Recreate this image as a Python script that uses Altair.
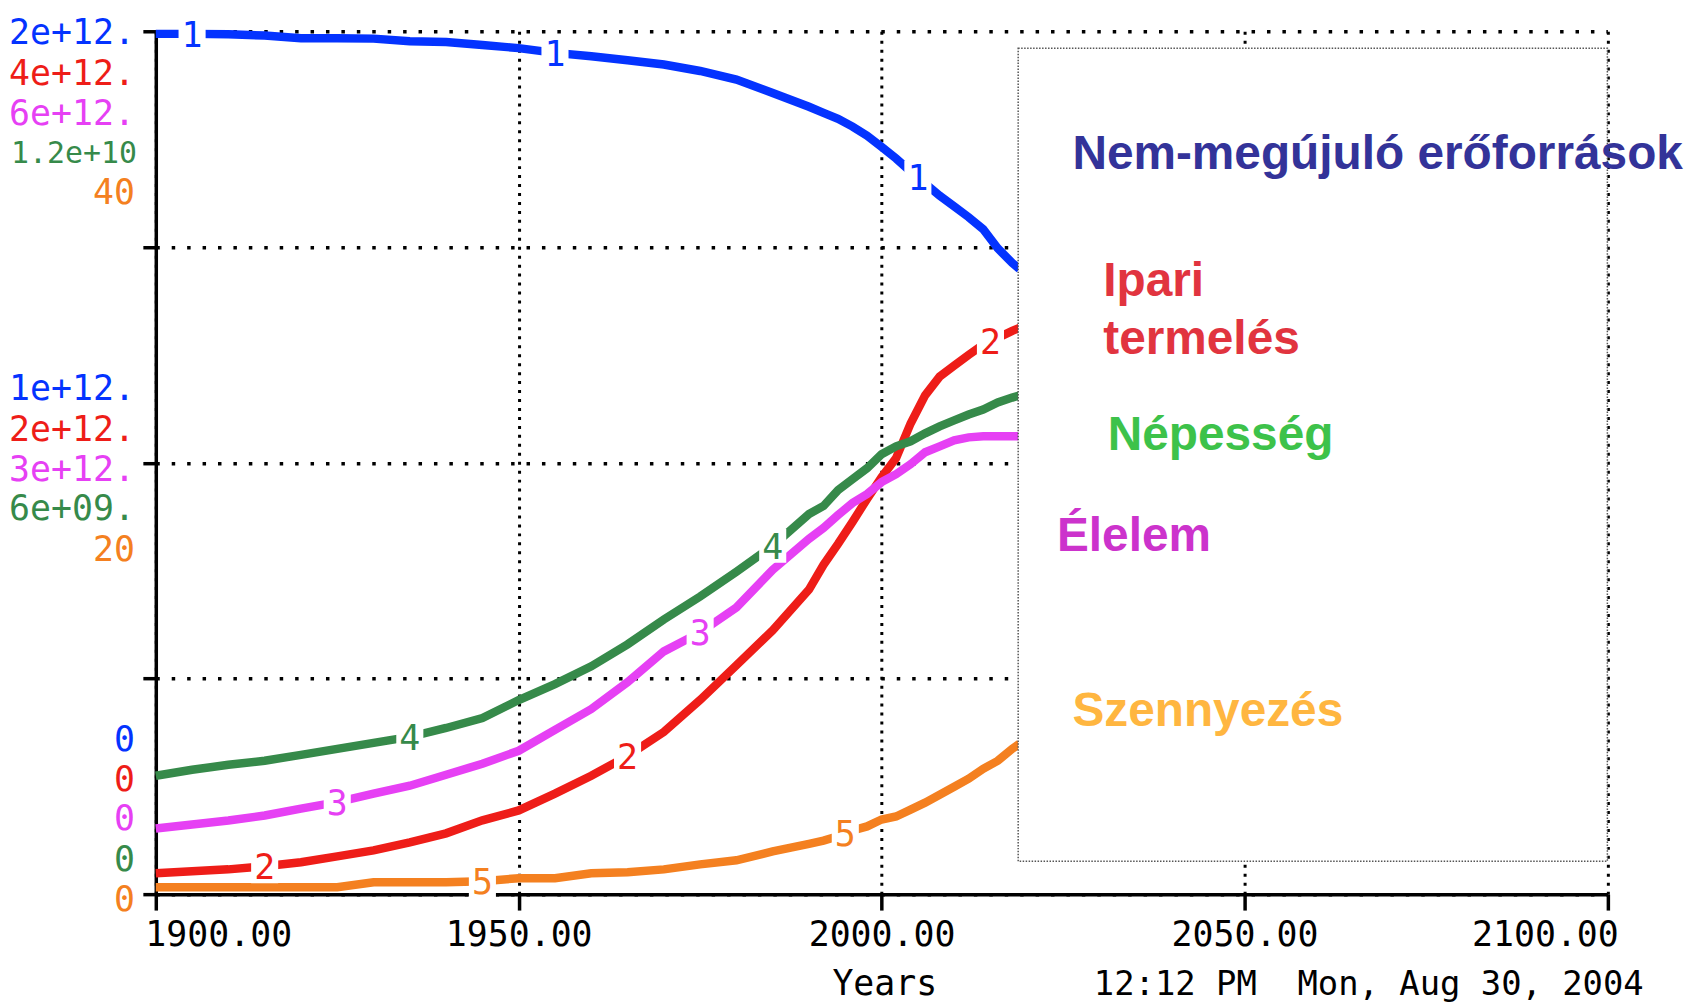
import altair as alt
import numpy as np
import pandas as pd

# ---------------- data ----------------
years = [1900, 1905, 1910, 1915, 1920, 1925, 1930, 1935, 1940, 1945, 1950, 1955,
         1960, 1965, 1970, 1975, 1980, 1985, 1990, 1992, 1994, 1996, 1998, 2000,
         2002, 2004, 2006, 2008, 2010, 2012, 2014, 2016, 2018, 2019]

# 1: non-renewable resources (x 1e12)
resources = [1.994, 1.994, 1.993, 1.990, 1.984, 1.984, 1.983, 1.977, 1.975, 1.968,
             1.961, 1.950, 1.942, 1.933, 1.923, 1.908, 1.888, 1.857, 1.825, 1.811,
             1.797, 1.779, 1.758, 1.732, 1.705, 1.675, 1.647, 1.619, 1.594, 1.569,
             1.541, 1.497, 1.463, 1.449]
# 2: industrial output (x 1e12)
industry = [0.097, 0.106, 0.115, 0.129, 0.148, 0.175, 0.203, 0.240, 0.282, 0.342,
            0.388, 0.466, 0.549, 0.641, 0.752, 0.900, 1.061, 1.223, 1.412, 1.527,
            1.624, 1.726, 1.832, 1.933, 2.021, 2.182, 2.312, 2.399, 2.450, 2.500,
            2.547, 2.579, 2.611, 2.625]
# 3: food (x 1e12)
food = [0.457, 0.484, 0.512, 0.547, 0.595, 0.640, 0.699, 0.754, 0.830, 0.907,
        0.997, 1.142, 1.287, 1.474, 1.688, 1.820, 1.993, 2.256, 2.471, 2.547,
        2.636, 2.720, 2.782, 2.865, 2.920, 2.990, 3.073, 3.114, 3.156, 3.176,
        3.184, 3.184, 3.184, 3.184]
# 4: population (x 1e9)
population = [1.647, 1.730, 1.799, 1.855, 1.938, 2.021, 2.104, 2.186, 2.311, 2.450,
              2.699, 2.921, 3.169, 3.474, 3.820, 4.139, 4.484, 4.844, 5.287, 5.398,
              5.620, 5.772, 5.924, 6.118, 6.228, 6.298, 6.408, 6.505, 6.588, 6.671,
              6.740, 6.838, 6.906, 6.935]
# 5: pollution
pollution = [0.32, 0.32, 0.32, 0.32, 0.32, 0.32, 0.55, 0.55, 0.55, 0.60,
             0.74, 0.74, 0.97, 1.02, 1.15, 1.38, 1.57, 1.98, 2.33, 2.48,
             2.68, 2.95, 3.14, 3.46, 3.60, 3.92, 4.24, 4.61, 4.98, 5.35,
             5.81, 6.18, 6.74, 6.97]

series_names = ["resources", "industry", "food", "population", "pollution"]
series_values = [resources, industry, food, population, pollution]
series_max = [2.0, 4.0, 6.0, 12.0, 40.0]
series_ids = ["1", "2", "3", "4", "5"]
colors = ["#0433FF", "#EE1D18", "#E640F4", "#368A4A", "#F48020"]
label_years = [[1905, 1955, 2005], [1915, 1965, 2015], [1925, 1975],
               [1935, 1985], [1945, 1995]]

top_labels = ["2e+12.", "4e+12.", "6e+12.", "1.2e+10", "40"]
mid_labels = ["1e+12.", "2e+12.", "3e+12.", "6e+09.", "20"]
bot_labels = ["0", "0", "0", "0", "0"]

x_ticks = [1900, 1950, 2000, 2050, 2100]
y_ticks = [0, 0.25, 0.5, 0.75, 1.0]

legend_texts = ["Nem-megújuló erőforrások", "Ipari", "termelés", "Népesség",
                "Élelem", "Szennyezés"]
legend_colors = ["#333399", "#E1343F", "#E1343F", "#3DC24A", "#CC33CC", "#FFB640"]
x_title = "Years"
stamp = "12:12 PM\u00a0\u00a0Mon, Aug 30, 2004"

# ---------------- tables ----------------
rows = []
for name, vals, mx in zip(series_names, series_values, series_max):
    for yr, v in zip(years, vals):
        rows.append({"series": name, "year": yr, "value": v, "frac": v / mx})
df = pd.DataFrame(rows)

lab_rows = []
for name, vals, mx, ident, lys in zip(series_names, series_values, series_max,
                                      series_ids, label_years):
    fr = np.array(vals) / mx
    for ly in lys:
        lab_rows.append({"series": name, "year": ly,
                         "frac": float(np.interp(ly, years, fr)), "id": ident})
lab_df = pd.DataFrame(lab_rows)

W, H = 1458.5, 867
MONO = "DejaVu Sans Mono"

xscale = alt.Scale(domain=[1900, 2100], nice=False, zero=False)
yscale = alt.Scale(domain=[0, 1], nice=False, zero=True)

xaxis = alt.Axis(values=x_ticks, format=".2f", title=None, labelFont=MONO,
                 labelFontSize=35, labelColor="black", labelFlush=True,
                 labelFlushOffset=11, labelOverlap=False, tickSize=16,
                 tickWidth=3.5, tickColor="black", domainColor="black",
                 domainWidth=3.5, labelPadding=8, grid=True, gridColor="black",
                 gridWidth=3, gridDash=[3, 6], gridOpacity=1)
yaxis = alt.Axis(values=y_ticks, labels=False, title=None, tickSize=13,
                 tickWidth=3.5, tickColor="black", domainColor="black",
                 domainWidth=3.5, grid=True, gridColor="black", gridWidth=3.5,
                 gridDash=[3.5, 12], gridOpacity=1)

X = alt.X("year:Q", scale=xscale, axis=xaxis)
Y = alt.Y("frac:Q", scale=yscale, axis=yaxis)
color = alt.Color("series:N", scale=alt.Scale(domain=series_names, range=colors),
                  legend=None)

lines = alt.Chart(df).mark_line(strokeWidth=8.5, strokeCap="butt").encode(
    x=X, y=Y, color=color, order="year:Q")

blanks = alt.Chart(lab_df).mark_point(
    shape="M-0.8,-1L0.8,-1L0.8,1L-0.8,1Z", filled=True, fill="white",
    opacity=1, size=1156).encode(x=X, y=Y)

digits = alt.Chart(lab_df).mark_text(font=MONO, fontSize=35, baseline="middle",
                                     dy=2).encode(x=X, y=Y, text="id:N", color=color)

dummy = pd.DataFrame({"a": [0]})
box = alt.Chart(dummy).mark_rect(fill="white", stroke="#555555", strokeWidth=1.5,
                                 strokeDash=[1.5, 1.5]).encode(
    x=alt.value(866.5), x2=alt.value(1458.5), y=alt.value(17), y2=alt.value(834))

legend_pos = [(921, 138), (952, 266), (952, 324), (956.5, 420.5),
              (905.5, 522), (921, 698.5)]
legend_layers = []
for txt, col, (px, py) in zip(legend_texts, legend_colors, legend_pos):
    legend_layers.append(
        alt.Chart(dummy).mark_text(font="Liberation Sans", fontWeight="bold",
                                   fontSize=48, align="left", baseline="alphabetic",
                                   color=col, text=txt).encode(
            x=alt.value(px), y=alt.value(py)))

# left stacked axis labels
ylabel_layers = []
groups = [(1.0, top_labels, [2, 43, 83, 123, 163]),
          (0.5, mid_labels, [-74, -33, 7, 47, 88]),
          (0.0, bot_labels, [-155, -115, -75, -34, 6])]
for gval, labels, offs in groups:
    for lab, col, off in zip(labels, colors, offs):
        fs = 35 if len(lab) < 7 else 30
        xr = -21 if len(lab) < 7 else -19
        ylabel_layers.append(
            alt.Chart(pd.DataFrame({"frac": [gval], "t": [lab]})).mark_text(
                font=MONO, fontSize=fs, align="right", baseline="middle",
                dy=off, color=col).encode(x=alt.value(xr), y=Y, text="t:N"))

title_txt = alt.Chart(dummy).mark_text(font=MONO, fontSize=35, align="center",
                                       baseline="alphabetic", color="black",
                                       text=x_title).encode(
    x=alt.value(732.5), y=alt.value(968))
stamp_txt = alt.Chart(dummy).mark_text(font=MONO, fontSize=34, align="left",
                                       baseline="alphabetic", color="black",
                                       text=stamp).encode(
    x=alt.value(942.5), y=alt.value(968))

chart = alt.layer(lines, blanks, digits, box, *legend_layers, *ylabel_layers,
                  title_txt, stamp_txt).properties(
    width=W, height=H,
    autosize=alt.AutoSizeParams(type="none"),
    padding={"left": 148.5, "top": 21, "right": 77, "bottom": 111},
).configure_view(strokeWidth=0)

chart.save("out.html", embed_options={"renderer": "svg", "actions": False})
